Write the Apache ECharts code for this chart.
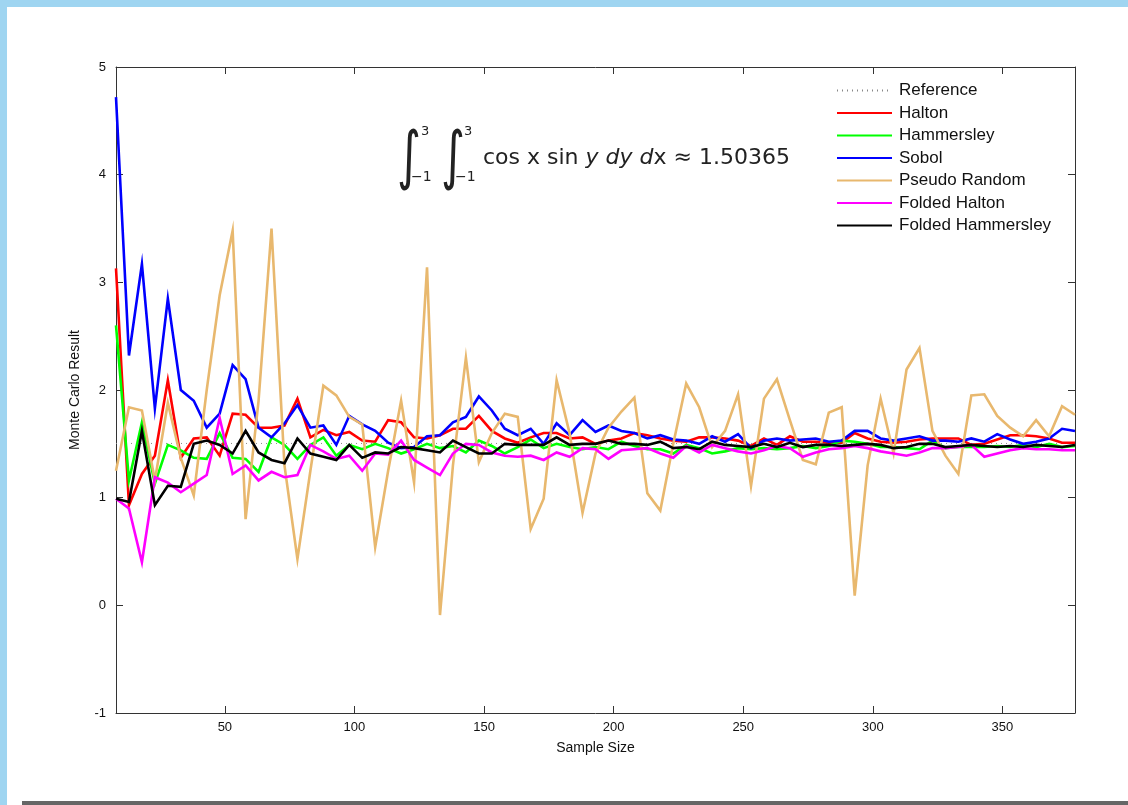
<!DOCTYPE html>
<html>
<head>
<meta charset="utf-8">
<title>Monte Carlo integration convergence</title>
<script src="https://cdn.jsdelivr.net/npm/echarts@6/dist/echarts.min.js"></script>
<style>
  html, body { margin: 0; padding: 0; background: #ffffff; }
  #chart { width: 1128px; height: 805px; }
</style>
</head>
<body>
<div id="chart"></div>
<script>
// Sample sizes used for each estimate
const sampleSizes = [8, 13, 18, 23, 28, 33, 38, 43, 48, 53, 58, 63, 68, 73, 78, 83, 88, 93, 98, 103,
  108, 113, 118, 123, 128, 133, 138, 143, 148, 153, 158, 163, 168, 173, 178, 183, 188, 193, 198, 203,
  208, 213, 218, 223, 228, 233, 238, 243, 248, 253, 258, 263, 268, 273, 278, 283, 288, 293, 298, 303,
  308, 313, 318, 323, 328, 333, 338, 343, 348, 353, 358, 363, 368, 373, 378];

// Exact value of the integral
const referenceValue = 1.50365;

// Monte Carlo estimates per point set
const halton = [3.13, 0.93, 1.22, 1.39, 2.09, 1.37, 1.55, 1.56, 1.39, 1.78, 1.77, 1.65, 1.65, 1.67, 1.92,
  1.56, 1.63, 1.58, 1.61, 1.53, 1.52, 1.72, 1.70, 1.56, 1.55, 1.58, 1.64, 1.64, 1.76, 1.62,
  1.55, 1.51, 1.56, 1.60, 1.60, 1.55, 1.56, 1.50, 1.53, 1.55, 1.60, 1.58, 1.55, 1.53, 1.52,
  1.56, 1.56, 1.55, 1.53, 1.48, 1.55, 1.49, 1.57, 1.52, 1.52, 1.51, 1.51, 1.60, 1.55, 1.52,
  1.51, 1.52, 1.54, 1.55, 1.55, 1.55, 1.49, 1.50, 1.54, 1.58, 1.58, 1.57, 1.55, 1.51, 1.51];

const hammersley = [2.60, 1.16, 1.70, 1.13, 1.49, 1.44, 1.37, 1.36, 1.60, 1.37, 1.36, 1.24, 1.56, 1.49, 1.36,
  1.49, 1.56, 1.39, 1.49, 1.45, 1.50, 1.46, 1.41, 1.45, 1.50, 1.46, 1.48, 1.42, 1.53, 1.48,
  1.41, 1.47, 1.54, 1.46, 1.50, 1.47, 1.45, 1.47, 1.45, 1.52, 1.48, 1.45, 1.45, 1.41, 1.49,
  1.46, 1.41, 1.43, 1.46, 1.45, 1.46, 1.45, 1.46, 1.48, 1.46, 1.48, 1.53, 1.52, 1.50, 1.47,
  1.47, 1.46, 1.45, 1.53, 1.46, 1.47, 1.47, 1.47, 1.48, 1.47, 1.49, 1.47, 1.50, 1.47, 1.48];

const sobol = [4.72, 2.32, 3.17, 1.83, 2.85, 2.00, 1.90, 1.65, 1.78, 2.23, 2.10, 1.65, 1.56, 1.69, 1.86,
  1.65, 1.67, 1.49, 1.76, 1.68, 1.62, 1.51, 1.46, 1.47, 1.57, 1.58, 1.70, 1.75, 1.94, 1.81,
  1.64, 1.58, 1.64, 1.50, 1.69, 1.58, 1.72, 1.61, 1.67, 1.62, 1.60, 1.55, 1.58, 1.54, 1.53,
  1.50, 1.57, 1.52, 1.59, 1.46, 1.53, 1.55, 1.53, 1.54, 1.55, 1.52, 1.53, 1.62, 1.62, 1.55,
  1.53, 1.55, 1.57, 1.53, 1.53, 1.52, 1.55, 1.52, 1.59, 1.54, 1.50, 1.52, 1.55, 1.64, 1.62];

const pseudoRandom = [1.25, 1.84, 1.81, 1.16, 1.88, 1.37, 1.02, 2.00, 2.88, 3.48, 0.80, 1.90, 3.50, 1.30, 0.43,
  1.25, 2.04, 1.95, 1.75, 1.68, 0.54, 1.25, 1.90, 1.14, 3.14, -0.09, 1.30, 2.30, 1.33, 1.60,
  1.78, 1.75, 0.71, 0.99, 2.09, 1.60, 0.86, 1.41, 1.65, 1.80, 1.93, 1.04, 0.88, 1.50, 2.06,
  1.84, 1.47, 1.62, 1.96, 1.11, 1.92, 2.10, 1.72, 1.35, 1.31, 1.79, 1.84, 0.09, 1.30, 1.92,
  1.41, 2.19, 2.39, 1.62, 1.39, 1.22, 1.95, 1.96, 1.76, 1.65, 1.57, 1.72, 1.57, 1.85, 1.77];

const foldedHalton = [0.99, 0.90, 0.40, 1.19, 1.14, 1.05, 1.13, 1.21, 1.74, 1.22, 1.30, 1.16, 1.24, 1.19, 1.21,
  1.49, 1.43, 1.36, 1.39, 1.25, 1.41, 1.40, 1.53, 1.35, 1.28, 1.21, 1.41, 1.50, 1.49, 1.42,
  1.39, 1.38, 1.39, 1.35, 1.42, 1.38, 1.46, 1.45, 1.36, 1.44, 1.45, 1.46, 1.41, 1.37, 1.48,
  1.42, 1.49, 1.46, 1.43, 1.41, 1.44, 1.48, 1.46, 1.38, 1.42, 1.45, 1.46, 1.48, 1.46, 1.43,
  1.41, 1.39, 1.42, 1.46, 1.46, 1.47, 1.49, 1.38, 1.41, 1.44, 1.46, 1.45, 1.45, 1.44, 1.44];

const foldedHammersley = [0.99, 0.96, 1.62, 0.93, 1.11, 1.10, 1.50, 1.53, 1.49, 1.41, 1.62, 1.42, 1.35, 1.32, 1.55,
  1.41, 1.38, 1.35, 1.49, 1.37, 1.42, 1.41, 1.47, 1.46, 1.44, 1.42, 1.53, 1.47, 1.41, 1.41,
  1.50, 1.49, 1.49, 1.49, 1.56, 1.49, 1.50, 1.50, 1.53, 1.50, 1.50, 1.49, 1.52, 1.46, 1.47,
  1.45, 1.52, 1.49, 1.48, 1.47, 1.50, 1.47, 1.51, 1.47, 1.49, 1.49, 1.48, 1.49, 1.50, 1.49,
  1.46, 1.47, 1.50, 1.50, 1.47, 1.48, 1.49, 1.48, 1.47, 1.48, 1.47, 1.49, 1.48, 1.47, 1.49];

// Axis tick labels
const xTickValues = [50, 100, 150, 200, 250, 300, 350];
const yTickValues = [-1, 0, 1, 2, 3, 4, 5];

const seriesDefs = [
  { name: 'Halton', values: halton, color: '#ff0000' },
  { name: 'Hammersley', values: hammersley, color: '#00ff00' },
  { name: 'Sobol', values: sobol, color: '#0000ff' },
  { name: 'Pseudo Random', values: pseudoRandom, color: '#e8b86e' },
  { name: 'Folded Halton', values: foldedHalton, color: '#ff00ff' },
  { name: 'Folded Hammersley', values: foldedHammersley, color: '#000000' }
];

const FONT = '"Liberation Sans", Arial, sans-serif';
const MATH_FONT = '"DejaVu Sans", sans-serif';
const AXIS_COLOR = '#333333';

const chart = echarts.init(document.getElementById('chart'), null, { renderer: 'canvas' });

const gridBox = { left: 116, top: 67, right: 53, bottom: 92 };

const commonX = {
  type: 'value',
  min: sampleSizes[0],
  max: sampleSizes[sampleSizes.length - 1],
  splitLine: { show: false },
  axisLine: { show: true, onZero: false, lineStyle: { color: AXIS_COLOR, width: 1 } },
  axisTick: { show: true, inside: true, length: 7, customValues: xTickValues, lineStyle: { color: AXIS_COLOR } }
};
const commonY = {
  type: 'value',
  min: yTickValues[0],
  max: yTickValues[yTickValues.length - 1],
  interval: 1,
  splitLine: { show: false },
  axisLine: { show: true, onZero: false, lineStyle: { color: AXIS_COLOR, width: 1 } },
  axisTick: { show: true, inside: true, length: 7, lineStyle: { color: AXIS_COLOR } }
};

const lineSeries = seriesDefs.map(d => ({
  name: d.name,
  type: 'line',
  xAxisIndex: 0,
  yAxisIndex: 0,
  data: sampleSizes.map((n, i) => [n, d.values[i]]),
  showSymbol: false,
  symbol: 'none',
  silent: true,
  lineStyle: { color: d.color, width: 2.6, join: 'miter' },
  itemStyle: { color: d.color },
  animation: false
}));

const referenceSeries = {
  name: 'Reference',
  type: 'line',
  xAxisIndex: 0,
  yAxisIndex: 0,
  data: [[sampleSizes[0], referenceValue], [sampleSizes[sampleSizes.length - 1], referenceValue]],
  showSymbol: false,
  symbol: 'none',
  silent: true,
  z: 1,
  lineStyle: { color: '#888888', width: 1, type: [1, 4] },
  itemStyle: { color: '#888888' },
  animation: false
};

// Integral sign drawn narrower than the font glyph
function integralSign(left) {
  return {
    type: 'text', x: left, y: 128, scaleX: 0.72, silent: true,
    style: { text: '\u222B', font: '64px ' + MATH_FONT, fill: '#222', textVerticalAlign: 'top' }
  };
}
function smallText(left, top, text, size) {
  return { type: 'text', left: left, top: top, silent: true, style: { text: text, font: size + 'px ' + MATH_FONT, fill: '#222' } };
}

const option = {
  backgroundColor: '#ffffff',
  animation: false,
  grid: Object.assign({ containLabel: false }, gridBox),
  xAxis: [
    Object.assign({}, commonX, {
      position: 'bottom',
      name: 'Sample Size',
      nameLocation: 'middle',
      nameGap: 28,
      nameTextStyle: { fontFamily: FONT, fontSize: 14, color: '#111', verticalAlign: 'top' },
      axisLabel: { show: true, customValues: xTickValues, margin: 8, fontFamily: FONT, fontSize: 13, color: '#111' }
    }),
    Object.assign({}, commonX, {
      position: 'top',
      axisLabel: { show: false }
    })
  ],
  yAxis: [
    Object.assign({}, commonY, {
      position: 'left',
      name: 'Monte Carlo Result',
      nameLocation: 'middle',
      nameGap: 34,
      nameTextStyle: { fontFamily: FONT, fontSize: 14, color: '#111' },
      axisLabel: { show: true, margin: 10, fontFamily: FONT, fontSize: 13, color: '#111' }
    }),
    Object.assign({}, commonY, {
      position: 'right',
      axisLabel: { show: false }
    })
  ],
  legend: {
    orient: 'vertical',
    left: 831,
    top: 77,
    itemWidth: 55,
    itemHeight: 14,
    itemGap: 5.5,
    selectedMode: false,
    itemStyle: { opacity: 0 },
    textStyle: { fontFamily: FONT, fontSize: 17, color: '#111', padding: [0, 0, 0, 2] },
    data: ['Reference'].concat(seriesDefs.map(d => d.name))
  },
  series: [referenceSeries].concat(lineSeries),
  graphic: [
    // figure frame
    { type: 'rect', shape: { x: 0, y: 0, width: 1128, height: 7 }, style: { fill: '#9fd5f1' }, silent: true },
    { type: 'rect', shape: { x: 0, y: 0, width: 7, height: 805 }, style: { fill: '#9fd5f1' }, silent: true },
    { type: 'rect', shape: { x: 22, y: 801, width: 1106, height: 4 }, style: { fill: '#666666' }, silent: true },
    // integral formula annotation
    integralSign(397),
    smallText(421, 125, '3', 13),
    smallText(411, 170, '\u22121', 14),
    integralSign(441),
    smallText(464, 125, '3', 13),
    smallText(455, 170, '\u22121', 14),
    {
      type: 'text', left: 483, top: 147, silent: true,
      style: {
        text: 'cos x sin {i|y} {i|dy} {i|d}x \u2248 1.50365',
        font: '22px ' + MATH_FONT,
        fill: '#222',
        rich: { i: { fontFamily: MATH_FONT, fontSize: 22, fontStyle: 'italic', fill: '#222' } }
      }
    }
  ]
};

chart.setOption(option);
</script>
</body>
</html>
